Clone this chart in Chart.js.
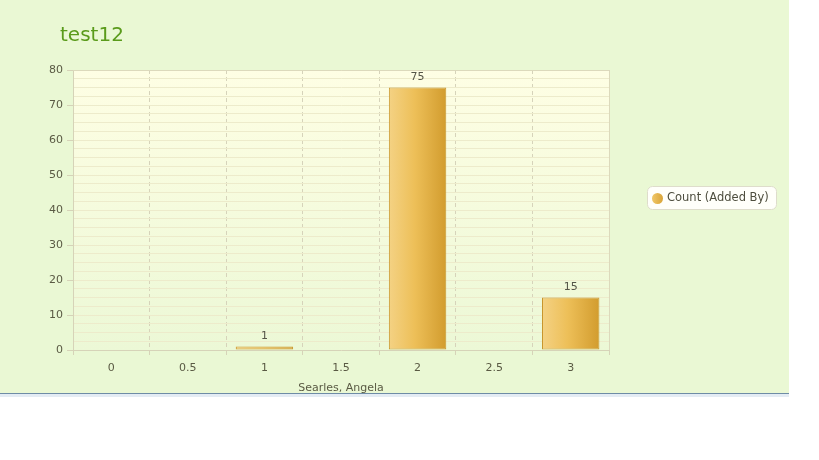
<!DOCTYPE html>
<html><head><meta charset="utf-8">
<script src="https://cdn.jsdelivr.net/npm/chart.js@4"></script>
<style>
html,body{margin:0;padding:0;background:#fff;}
#wrap{position:absolute;left:0;top:0;width:789px;height:393px;background:#EAF8D4;border-bottom:1px solid #6E8CA6;}
#sh{position:absolute;left:0;top:394px;width:789px;height:3px;background:#E4ECF4;}
canvas{display:block;}
</style></head>
<body>
<div id="wrap"><canvas id="c" width="789" height="393"></canvas></div>
<div id="sh"></div>
<script>
const titleText = 'test12';
const xTitle = 'Searles, Angela';
const seriesName = 'Count (Added By)';
const categories = ['0','0.5','1','1.5','2','2.5','3'];
const counts = [null, null, 1, null, 75, null, 15];
const yMin = 0, yMax = 80, yMajor = 10, yMinor = 2.5;

const FONT = 'DejaVu Sans, Verdana, sans-serif';

const decor = {
  id: 'decor',
  beforeDraw(chart) {
    const {ctx, chartArea: a} = chart;
    const g = ctx.createLinearGradient(0, a.top, 0, a.bottom);
    g.addColorStop(0, '#FEFEE4');
    g.addColorStop(1, '#ECF8D6');
    ctx.save();
    ctx.fillStyle = g;
    ctx.fillRect(a.left, a.top, a.right - a.left, a.bottom - a.top);
    ctx.restore();
  },
  afterDraw(chart) {
    const {ctx, chartArea: a} = chart;
    ctx.save();
    ctx.strokeStyle = '#DCD9BC';
    ctx.lineWidth = 1;
    ctx.beginPath();
    ctx.moveTo(a.left, a.top + 0.5); ctx.lineTo(a.right + 0.5, a.top + 0.5);
    ctx.lineTo(a.right + 0.5, a.bottom);
    ctx.stroke();
    ctx.fillStyle = '#5A9B1B';
    ctx.font = '20px ' + FONT;
    ctx.textBaseline = 'alphabetic';
    ctx.textAlign = 'left';
    ctx.fillText(titleText, 60, 41);
    const meta = chart.getDatasetMeta(0);
    ctx.font = '11px ' + FONT;
    ctx.fillStyle = '#555548';
    ctx.textAlign = 'center';
    ctx.textBaseline = 'bottom';
    meta.data.forEach((bar, i) => {
      const v = chart.data.datasets[0].data[i];
      if (v === null || v === undefined) return;
      ctx.fillText(String(v), bar.x, bar.y - 5);
    });
    const lx = 647.5, ly = 186.5, lw = 129, lh = 23, r = 5;
    ctx.beginPath();
    ctx.roundRect(lx, ly, lw, lh, r);
    ctx.fillStyle = '#FFFFFA';
    ctx.fill();
    ctx.strokeStyle = '#DEDDCB';
    ctx.stroke();
    const cg = ctx.createLinearGradient(652, 0, 663, 0);
    cg.addColorStop(0, '#F0C766'); cg.addColorStop(1, '#D9A438');
    ctx.beginPath();
    ctx.arc(657.5, 198.5, 5.5, 0, Math.PI * 2);
    ctx.fillStyle = cg;
    ctx.fill();
    ctx.fillStyle = '#4E4E3E';
    ctx.textAlign = 'left';
    ctx.textBaseline = 'middle';
    ctx.font = '11.5px ' + FONT;
    ctx.fillText(seriesName, 667, 198);
    ctx.restore();
  }
};

function barGradient(context) {
  const chart = context.chart;
  const xs = chart.scales.x;
  if (!xs || !chart.chartArea) return '#E8B84E';
  const cx = xs.getPixelForValue(context.dataIndex);
  const cw = (xs.right - xs.left) / categories.length * 0.75;
  const g = chart.ctx.createLinearGradient(cx - cw / 2, 0, cx + cw / 2, 0);
  g.addColorStop(0, '#F4D284');
  g.addColorStop(0.45, '#EDBF58');
  g.addColorStop(1, '#D29C2E');
  return g;
}

new Chart(document.getElementById('c'), {
  type: 'bar',
  data: {
    labels: categories,
    datasets: [{
      label: seriesName,
      data: counts,
      backgroundColor: barGradient,
      borderColor: '#C8962C',
      borderWidth: 1,
      borderSkipped: false,
      categoryPercentage: 0.75,
      barPercentage: 1
    }]
  },
  options: {
    responsive: false,
    animation: false,
    layout: { padding: { left: 33, right: 180, top: 70, bottom: 0 } },
    plugins: { legend: { display: false }, title: { display: false }, tooltip: { enabled: false } },
    scales: {
      x: {
        afterFit(s) { s.height = 43; },
        grid: {
          offset: true,
          color: '#D6D3BA',
          tickBorderDash: [],
          tickColor: '#D6D3B8',
          tickLength: 5,
          drawOnChartArea: true
        },
        border: { color: '#D6D3B8', width: 1, dash: [4, 3] },
        ticks: { color: '#5A5A44', font: { family: FONT, size: 11 }, padding: 7 },
        title: { display: true, text: xTitle, color: '#5A5A44', font: { family: FONT, size: 11 }, padding: { top: 5, bottom: -2 } }
      },
      y: {
        min: yMin, max: yMax,
        afterFit(s) { s.width = 40; },
        grid: {
          color: '#EDEBCB',
          tickColor: (c) => (c.tick && c.tick.value % yMajor === 0) ? '#D6D3B8' : 'rgba(0,0,0,0)',
          tickLength: 6
        },
        border: { color: '#D6D3B8', width: 1 },
        ticks: {
          stepSize: yMinor,
          autoSkip: false,
          color: '#5A5A44',
          font: { family: FONT, size: 11 },
          padding: 4,
          callback: (v) => (v % yMajor === 0 ? String(v) : '')
        }
      }
    }
  },
  plugins: [decor]
});
</script>
</body></html>
